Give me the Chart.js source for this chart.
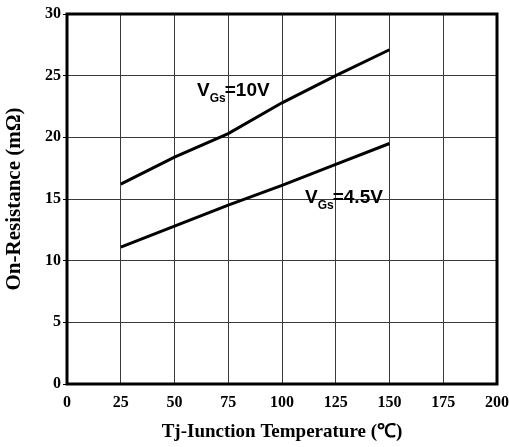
<!DOCTYPE html>
<html>
<head>
<meta charset="utf-8">
<script src="https://cdn.jsdelivr.net/npm/chart.js@4"></script>
<style>
  html, body { margin: 0; padding: 0; background: #fff; }
  #wrap { width: 509px; height: 447px; }
</style>
</head>
<body>
<div id="wrap"><canvas id="rdsChart"></canvas></div>
<script>
// On-resistance vs junction temperature, two gate drive levels

const temps = [25, 50, 75, 100, 125, 150];
const rds10V = [16.2, 18.4, 20.3, 22.8, 25.0, 27.1];
const rds45V = [11.1, 12.8, 14.5, 16.1, 17.8, 19.5];

const xTicks = [0, 25, 50, 75, 100, 125, 150, 175, 200];
const yTicks = [0, 5, 10, 15, 20, 25, 30];

// curve labels: [main, subscript, rest, x value, y value]
const curveLabels = [
  ["V", "Gs", "=10V", 60.5, 23.35],
  ["V", "Gs", "=4.5V", 110.7, 14.68]
];

function toPoints(xs, ys) {
  return xs.map((x, i) => ({ x: x, y: ys[i] }));
}

const serifBold = (size) => ({ family: "'Liberation Serif', 'Times New Roman', serif", size: size, weight: "bold" });

// thick frame around the plot area
const framePlugin = {
  id: "frame",
  afterDraw(chart) {
    const a = chart.chartArea;
    const ctx = chart.ctx;
    ctx.save();
    ctx.strokeStyle = "#000";
    ctx.lineWidth = 3;
    ctx.strokeRect(a.left, a.top, a.right - a.left, a.bottom - a.top);
    ctx.restore();
  }
};

// V_Gs labels next to the curves
const labelPlugin = {
  id: "curveLabels",
  afterDatasetsDraw(chart) {
    const ctx = chart.ctx;
    const xs = chart.scales.x;
    const ys = chart.scales.y;
    ctx.save();
    ctx.fillStyle = "#000";
    ctx.textBaseline = "alphabetic";
    ctx.textAlign = "left";
    curveLabels.forEach(([main, sub, rest, xv, yv]) => {
      let px = xs.getPixelForValue(xv);
      const py = ys.getPixelForValue(yv);
      ctx.font = "bold 19px 'Liberation Sans', Arial, sans-serif";
      ctx.fillText(main, px, py);
      px += ctx.measureText(main).width;
      ctx.font = "bold 12px 'Liberation Sans', Arial, sans-serif";
      ctx.fillText(sub, px, py + 6);
      px += ctx.measureText(sub).width;
      ctx.font = "bold 19px 'Liberation Sans', Arial, sans-serif";
      ctx.fillText(rest, px - 1, py);
    });
    ctx.restore();
  }
};

const lineStyle = {
  borderColor: "#000",
  borderWidth: 3,
  pointRadius: 0,
  tension: 0,
  fill: false
};

new Chart(document.getElementById("rdsChart"), {
  type: "line",
  data: {
    datasets: [
      Object.assign({ label: "VGs=10V", data: toPoints(temps, rds10V) }, lineStyle),
      Object.assign({ label: "VGs=4.5V", data: toPoints(temps, rds45V) }, lineStyle)
    ]
  },
  options: {
    responsive: true,
    maintainAspectRatio: false,
    animation: false,
    events: [],
    layout: { padding: { top: 14, right: 12, left: 0, bottom: 0 } },
    plugins: {
      legend: { display: false },
      tooltip: { enabled: false }
    },
    scales: {
      x: {
        type: "linear",
        min: 0,
        max: 200,
        afterBuildTicks(scale) {
          scale.ticks = xTicks.map((v) => ({ value: v }));
        },
        afterFit(scale) {
          scale.height = 63;
          scale.paddingLeft = 0;
          scale.paddingRight = 0;
        },
        grid: { color: "#3a3a3a", lineWidth: 1, drawTicks: false },
        border: { display: false },
        ticks: { color: "#000", font: serifBold(16), padding: 9, maxRotation: 0, autoSkip: false },
        title: {
          display: true,
          text: "Tj-Iunction Temperature (℃)",
          color: "#000",
          font: serifBold(19),
          padding: { top: 0, bottom: 4 }
        }
      },
      y: {
        min: 0,
        max: 30,
        afterBuildTicks(scale) {
          scale.ticks = yTicks.map((v) => ({ value: v }));
        },
        afterFit(scale) {
          scale.width = 67;
          scale.paddingTop = 0;
          scale.paddingBottom = 0;
        },
        grid: { color: "#3a3a3a", lineWidth: 1, drawTicks: true, tickLength: 4, tickColor: "#000" },
        border: { display: false },
        ticks: { color: "#000", font: serifBold(16), padding: 2, autoSkip: false },
        title: {
          display: true,
          text: "On-Resistance (mΩ)",
          color: "#000",
          font: serifBold(21),
          padding: { top: 2, bottom: 0 }
        }
      }
    }
  },
  plugins: [framePlugin, labelPlugin]
});
</script>
</body>
</html>
